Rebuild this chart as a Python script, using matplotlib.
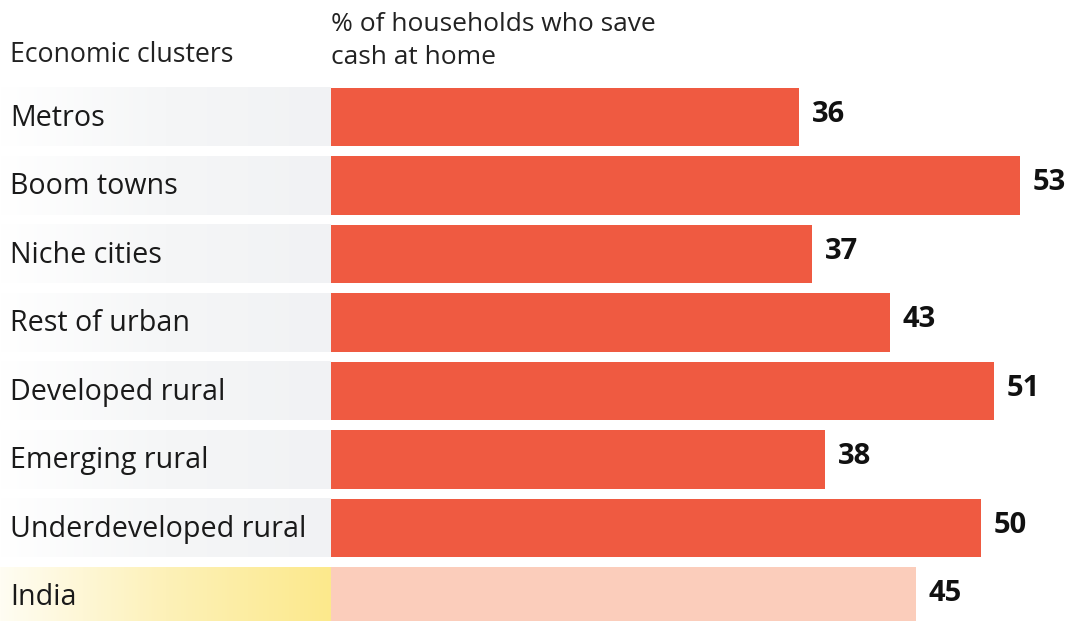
import numpy as np
import matplotlib.pyplot as plt
from matplotlib.colors import LinearSegmentedColormap

plt.rcParams['font.family'] = ['Open Sans', 'DejaVu Sans']

clusters = ['Metros', 'Boom towns', 'Niche cities', 'Rest of urban',
            'Developed rural', 'Emerging rural', 'Underdeveloped rural', 'India']
share = [36, 53, 37, 43, 51, 38, 50, 45]

bar_red = '#ef5a41'
bar_india = '#fbcdbb'

W, H = 1071, 621
fig = plt.figure(figsize=(W / 100, H / 100), dpi=100)

x0 = 331 / W
# row i centre at pixel 117 + 68.5*i
ytop = -117 / 68.5
ybot = (H - 117) / 68.5

ax_lab = fig.add_axes([0, 0, x0, 1])
ax = fig.add_axes([x0, 0, 1 - x0, 1])
for a in (ax_lab, ax):
    a.set_ylim(ybot, ytop)
    a.axis('off')
ax_lab.set_xlim(0, 1)
ax.set_xlim(0, 740 / 13.0)

h = 0.85
grey = LinearSegmentedColormap.from_list('g', ['#ffffff', '#f5f6f7', '#f1f2f4'])
yellow = LinearSegmentedColormap.from_list('y', ['#fffdf3', '#fdf1b8', '#fce98c'])
grad = np.linspace(0, 1, 256).reshape(1, -1)

n = len(clusters)
for i, name in enumerate(clusters):
    cmap = yellow if name == 'India' else grey
    ax_lab.imshow(grad, cmap=cmap, aspect='auto',
                  extent=(0, 1, i + h / 2, i - h / 2), zorder=0)
    ax_lab.text(10 / 331, i + 0.02, name, fontsize=20.6, color='#1a1a1a',
                va='center', ha='left', zorder=2)
ax_lab.set_ylim(ybot, ytop)

colors = [bar_india if c == 'India' else bar_red for c in clusters]
ax.barh(range(n), share, height=h, color=colors)
for i, v in enumerate(share):
    ax.annotate(str(v), (v, i), xytext=(9, 2), textcoords='offset points',
                fontsize=21, fontweight='bold', color='#111111',
                va='center', ha='left')

fig.text(10 / W, 1 - 55 / H, 'Economic clusters', fontsize=19.2, color='#222222',
         va='center', ha='left')
fig.text(x0, 1 - 41 / H, '% of households who save\ncash at home', fontsize=19,
         color='#222222', va='center', ha='left', linespacing=1.45)

fig.savefig('out.png', dpi=100, facecolor='white')
